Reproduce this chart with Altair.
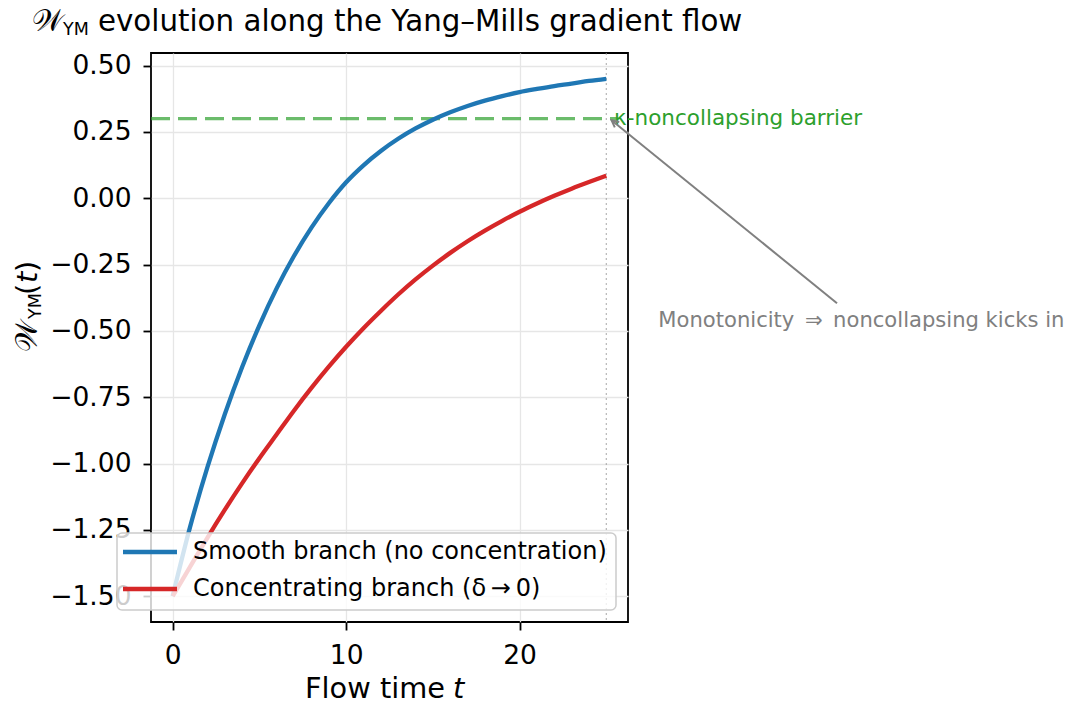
import altair as alt
import pandas as pd

# ---------------- data ----------------
T = list(range(0, 26))
SMOOTH = [-1.50, -1.24, -1.015, -0.815, -0.637, -0.479, -0.339, -0.217, -0.111, -0.019,
          0.060, 0.124, 0.178, 0.224, 0.263, 0.296, 0.324, 0.348, 0.368, 0.385,
          0.400, 0.412, 0.423, 0.432, 0.442, 0.450]
CONC = [-1.50, -1.39, -1.28, -1.175, -1.075, -0.98, -0.89, -0.80, -0.715, -0.635,
        -0.56, -0.49, -0.425, -0.363, -0.306, -0.254, -0.206, -0.162, -0.122, -0.085,
        -0.051, -0.02, 0.009, 0.036, 0.061, 0.085]
SMOOTH_LABEL = "Smooth branch (no concentration)"
CONC_LABEL = "Concentrating branch (δ\u2009→\u20090)"

BARRIER = 0.30
BARRIER_END_T = 25.6
BARRIER_LABEL = "κ-noncollapsing barrier"
T_END = 25
ARROW_FROM = (38.3, -0.396)
ARROW_TO = (25.3, 0.294)
NOTE_POS = (28.0, -0.486)
NOTE = "Monotonicity\u2002\u21d2\u2002noncollapsing kicks in"

X_TICKS = [0, 10, 20]
Y_TICKS = [-1.5, -1.25, -1.0, -0.75, -0.5, -0.25, 0.0, 0.25, 0.5]
X_DOMAIN = [-1.25, 26.25]
Y_DOMAIN = [-1.5975, 0.5475]

FONT = "DejaVu Sans"
BLUE, RED, GREEN, GRAY = "#1f77b4", "#d62728", "#2ca02c", "#808080"

rows = [{"t": t, "W": v, "branch": SMOOTH_LABEL} for t, v in zip(T, SMOOTH)]
rows += [{"t": t, "W": v, "branch": CONC_LABEL} for t, v in zip(T, CONC)]
df = pd.DataFrame(rows)
one = pd.DataFrame({"k": [0]})

xs = alt.Scale(domain=X_DOMAIN, nice=False, zero=False)
ys = alt.Scale(domain=Y_DOMAIN, nice=False, zero=False)

lines = alt.Chart(df).mark_line(strokeWidth=4.3, interpolate="monotone").encode(
    x=alt.X("t:Q", scale=xs,
            axis=alt.Axis(values=X_TICKS, title=None, format="d")),
    y=alt.Y("W:Q", scale=ys,
            axis=alt.Axis(values=Y_TICKS, title=None, format=".2f")),
    color=alt.Color("branch:N",
                    scale=alt.Scale(domain=[SMOOTH_LABEL, CONC_LABEL], range=[BLUE, RED]),
                    legend=None),
    order="t:Q",
)

vline = alt.Chart(one).mark_rule(color="#999999", strokeWidth=1.2,
                                 strokeDash=[2, 3], opacity=0.7).encode(
    x=alt.datum(T_END), y=alt.value(0), y2=alt.value(569))

barrier = alt.Chart(one).mark_rule(color=GREEN, strokeWidth=3.2, opacity=0.7,
                                   strokeDash=[19, 8]).encode(
    x=alt.datum(X_DOMAIN[0]), x2=alt.datum(BARRIER_END_T), y=alt.datum(BARRIER))

barrier_txt = alt.Chart(one).mark_text(text=BARRIER_LABEL, color=GREEN, fontSize=21.5,
                                       font=FONT, align="left", baseline="middle").encode(
    x=alt.datum(25.45), y=alt.datum(BARRIER))

arrow = alt.Chart(one).mark_rule(color=GRAY, strokeWidth=2).encode(
    x=alt.datum(ARROW_FROM[0]), y=alt.datum(ARROW_FROM[1]),
    x2=alt.datum(ARROW_TO[0]), y2=alt.datum(ARROW_TO[1]))

head = alt.Chart(one).mark_point(shape="M-0.5,1L0,0L0.5,1", filled=False, opacity=1,
                                 color=GRAY, strokeWidth=2, size=200, angle=309).encode(
    x=alt.datum(ARROW_TO[0]), y=alt.datum(ARROW_TO[1]))

note = alt.Chart(one).mark_text(text=NOTE, color=GRAY, fontSize=21.1, font=FONT,
                                align="left", baseline="alphabetic").encode(
    x=alt.datum(NOTE_POS[0]), y=alt.datum(NOTE_POS[1]))


def label(text, x, y, size, angle=None, italic=False, color="black", baseline="alphabetic"):
    kw = dict(text=text, fontSize=size, font=FONT, color=color,
              align="left", baseline=baseline)
    if angle is not None:
        kw["angle"] = angle
    if italic:
        kw["fontStyle"] = "italic"
    return alt.Chart(one).mark_text(**kw).encode(x=alt.value(x), y=alt.value(y))


# legend box (drawn by hand so the rows sit as tightly as in the reference)
legend_box = alt.Chart(one).mark_rect(fill="white", fillOpacity=0.8, stroke="#cccccc",
                                      strokeWidth=1.5, cornerRadius=5).encode(
    x=alt.value(-34), x2=alt.value(465), y=alt.value(480), y2=alt.value(557))
legend_parts = [legend_box]
for i, (lab, col) in enumerate([(SMOOTH_LABEL, BLUE), (CONC_LABEL, RED)]):
    yy = 499 + 37 * i
    legend_parts.append(alt.Chart(one).mark_rule(color=col, strokeWidth=4.3).encode(
        x=alt.value(-28), x2=alt.value(26), y=alt.value(yy)))
    legend_parts.append(label(lab, 42, yy, 24, baseline="middle"))

texts = [
    # title
    label("𝒲", -119, -22, 30),
    label("YM", -88, -18, 17.5),
    label("evolution along the Yang–Mills gradient flow", -53, -22, 29.3),
    # x title
    label("Flow time", 154, 645, 28.8),
    label("t", 302, 645, 28.8, italic=True),
    # y title
    label("𝒲", -114, 299, 30, angle=270),
    label("YM", -110, 266, 17.5, angle=270),
    label("(", -114, 242, 28.8, angle=270),
    label("t", -114, 230, 28.8, angle=270, italic=True),
    label(")", -114, 219, 28.8, angle=270),
]

chart = alt.layer(vline, barrier, lines, barrier_txt, arrow, head, note,
                  *legend_parts, *texts).properties(
    width=477, height=569,
    autosize=alt.AutoSizeParams(type="none"),
    padding={"left": 143, "top": 45, "right": 440, "bottom": 80},
).configure_view(stroke="black", strokeWidth=1.8).configure_axis(
    labelFont=FONT, labelFontSize=26.5, labelColor="black",
    tickColor="black", tickWidth=1.8, tickSize=8, labelPadding=12,
    domain=False, grid=True, gridColor="#e6e6e6", gridWidth=1.3,
)

chart.save("out.html", embed_options={"renderer": "svg", "actions": False})
